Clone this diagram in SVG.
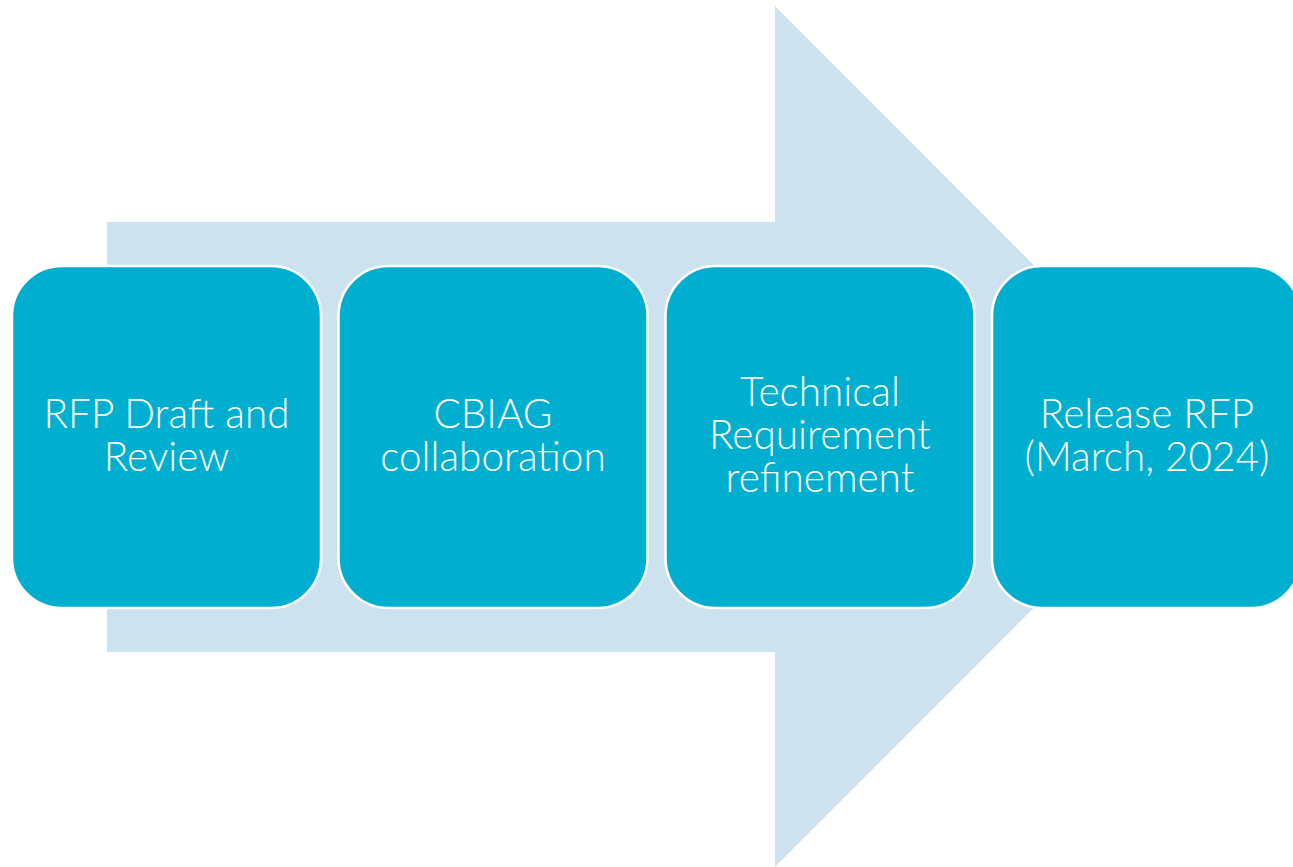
<svg xmlns="http://www.w3.org/2000/svg" width="1293" height="867" viewBox="0 0 1293 867">
<style>
.box{fill:#00afd0;stroke:#ffffff;stroke-width:2.5}
.lbl{font-family:Lato,"Open Sans",sans-serif;font-size:40.5px;font-weight:300;fill:#ffffff;text-anchor:middle}
</style>
<rect width="1293" height="867" fill="#ffffff"/>
<g id="arrow">
<polygon points="107,222 775,222 775,6 1205,436.5 775,867 775,652 107,652" fill="#cce3ef"/>
</g>
<g id="connectors"></g>
<g id="node1">
<rect class="box" x="12" y="266" width="309" height="342" rx="50"/>
<text class="lbl" x="166.5" y="428">RFP Draft and</text>
<text class="lbl" x="166.5" y="471">Review</text>
</g>
<g id="node2">
<rect class="box" x="338.5" y="266" width="309" height="342" rx="50"/>
<text class="lbl" x="493" y="428">CBIAG</text>
<text class="lbl" x="493" y="471">collaboration</text>
</g>
<g id="node3">
<rect class="box" x="665.5" y="266" width="309" height="342" rx="50"/>
<text class="lbl" x="820" y="406">Technical</text>
<text class="lbl" x="820" y="449">Requirement</text>
<text class="lbl" x="820" y="492">refinement</text>
</g>
<g id="node4">
<rect class="box" x="992" y="266" width="309" height="342" rx="50"/>
<text class="lbl" x="1147" y="428">Release RFP</text>
<text class="lbl" x="1147" y="471">(March, 2024)</text>
</g>
</svg>
